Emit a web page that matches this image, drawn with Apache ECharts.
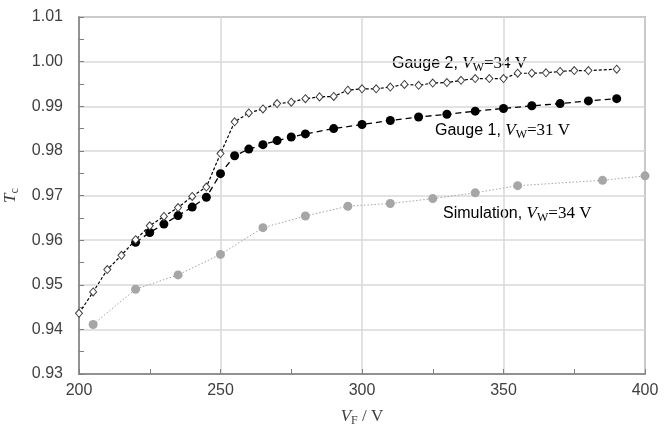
<!DOCTYPE html>
<html>
<head>
<meta charset="utf-8">
<script src="https://cdn.jsdelivr.net/npm/echarts@6/dist/echarts.min.js"></script>
<style>html,body{margin:0;padding:0;background:#fff}#c{width:672px;height:427px}</style>
</head>
<body>
<div id="c"></div>
<script>
const gauge2X = [200,205,210,215,220,225,230,235,240,245,250,255,260,265,270,275,280,285,290,295,300,305,310,315,320,325,330,335,340,345,350,355,360,365,370,375,380,390];
const gauge2Y = [0.9436,0.9484,0.9534,0.9566,0.9601,0.9632,0.9653,0.9673,0.9698,0.9719,0.9794,0.9865,0.9885,0.9894,0.9906,0.9909,0.9917,0.9921,0.9922,0.9936,0.9939,0.9939,0.9943,0.9949,0.9947,0.9952,0.9953,0.9958,0.9962,0.9962,0.9962,0.9974,0.9974,0.9975,0.9978,0.9980,0.9980,0.9983];
const gauge1X = [220,225,230,235,240,245,250,255,260,265,270,275,280,290,300,310,320,330,340,350,360,370,380,390];
const gauge1Y = [0.9595,0.9617,0.9636,0.9655,0.9674,0.9696,0.9749,0.9789,0.9804,0.9814,0.9823,0.9831,0.9838,0.9850,0.9859,0.9868,0.9876,0.9882,0.9889,0.9895,0.9901,0.9906,0.9912,0.9917];
const simX = [205,220,235,250,265,280,295,310,325,340,355,385,400];
const simY = [0.9411,0.9490,0.9522,0.9568,0.9628,0.9654,0.9676,0.9682,0.9693,0.9706,0.9722,0.9734,0.9744];
const xTicks = [200,250,300,350,400];
const yTicks = [0.93,0.94,0.95,0.96,0.97,0.98,0.99,1.00,1.01];

const pair = (xs, ys) => xs.map((x, i) => [x, ys[i]]);
const txtColor = '#404040';
const rich = {
  a: {fontFamily: 'Liberation Sans', fontSize: 16, color: txtColor},
  v: {fontFamily: 'Liberation Serif', fontStyle: 'italic', fontSize: 17, color: txtColor},
  s: {fontFamily: 'Liberation Serif', fontSize: 12, color: txtColor, padding: [8, 0, 0, 0]},
  r: {fontFamily: 'Liberation Serif', fontSize: 17, color: txtColor}
};
const chart = echarts.init(document.getElementById('c'), null, {renderer: 'canvas'});
chart.setOption({
  animation: false,
  backgroundColor: '#fff',
  grid: {left: 79, right: 27, top: 17, bottom: 53, containLabel: false, outerBoundsMode: 'none',
    show: true, borderColor: '#7f7f7f', borderWidth: 1.5},
  xAxis: {
    type: 'value', min: 200, max: 400, interval: 50,
    axisLine: {show: true, lineStyle: {color: '#7f7f7f', width: 1.5}},
    axisTick: {show: true, inside: true, length: 5, lineStyle: {color: '#7f7f7f'}},
    minorTick: {show: true, splitNumber: 2, length: 5, lineStyle: {color: '#7f7f7f'}},
    splitLine: {show: true, lineStyle: {color: '#d9d9d9', width: 1.5}},
    axisLabel: {fontFamily: 'Liberation Sans', fontSize: 16, color: txtColor, margin: 9,
      formatter: v => xTicks.includes(v) ? String(v) : ''},
    name: '{v|V}{s|F}{r| / V}', nameLocation: 'middle', nameGap: 33,
    nameTextStyle: {rich: rich}
  },
  yAxis: {
    type: 'value', min: 0.93, max: 1.01, interval: 0.01,
    axisLine: {show: true, lineStyle: {color: '#7f7f7f', width: 1.5}},
    axisTick: {show: true, inside: true, length: 5, lineStyle: {color: '#7f7f7f'}},
    minorTick: {show: true, splitNumber: 2, length: 5, lineStyle: {color: '#7f7f7f'}},
    splitLine: {show: true, lineStyle: {color: '#d9d9d9', width: 1.5}},
    axisLabel: {fontFamily: 'Liberation Sans', fontSize: 16, color: txtColor, margin: 16,
      formatter: v => v.toFixed(2)},
    name: '{v|T}{s|c}', nameLocation: 'middle', nameGap: 55, nameRotate: 90,
    nameTextStyle: {rich: rich}
  },
  series: [
    {
      name: 'Simulation', type: 'line', data: pair(simX, simY),
      symbol: 'circle', symbolSize: 9,
      itemStyle: {color: '#a6a6a6'},
      lineStyle: {color: '#a6a6a6', width: 1, type: [1.5, 2]}
    },
    {
      name: 'Gauge 1', type: 'line', data: pair(gauge1X, gauge1Y),
      symbol: 'circle', symbolSize: 9,
      itemStyle: {color: '#000'},
      lineStyle: {color: '#000', width: 1.3, type: [6, 4]}
    },
    {
      name: 'Gauge 2', type: 'line', data: pair(gauge2X, gauge2Y),
      symbol: 'diamond', symbolSize: [7, 8],
      itemStyle: {color: '#fff', borderColor: '#404040', borderWidth: 1},
      lineStyle: {color: '#000', width: 1.2, type: [3, 2]}
    }
  ],
  graphic: [
    {type: 'text', left: 392, top: 55, style: {text: '{a|Gauge 2, }{v|V}{s|W}{r|=34 V}', rich: rich}},
    {type: 'text', left: 435, top: 122, style: {text: '{a|Gauge 1, }{v|V}{s|W}{r|=31 V}', rich: rich}},
    {type: 'text', left: 443, top: 205, style: {text: '{a|Simulation, }{v|V}{s|W}{r|=34 V}', rich: rich}}
  ]
});
</script>
</body>
</html>
